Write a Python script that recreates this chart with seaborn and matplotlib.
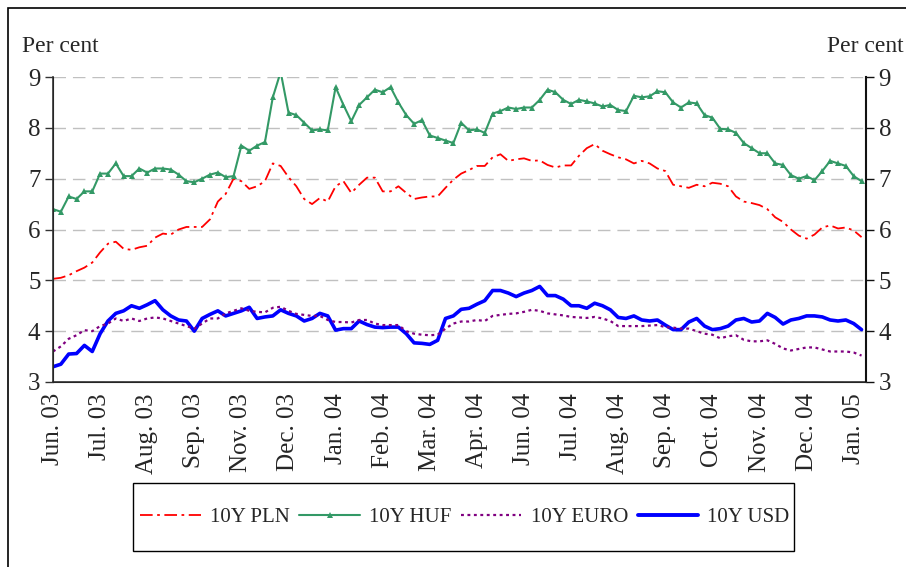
import numpy as np
import pandas as pd
import matplotlib
matplotlib.use("Agg")
import matplotlib.pyplot as plt
import seaborn as sns
from matplotlib.lines import Line2D
from matplotlib.patches import Rectangle

# ---------------- data ----------------
tick_labels = ["Jun. 03", "Jul. 03", "Aug. 03", "Sep. 03", "Nov. 03", "Dec. 03",
               "Jan. 04", "Feb. 04", "Mar. 04", "Apr. 04", "Jun. 04", "Jul. 04",
               "Aug. 04", "Sep. 04", "Oct. 04", "Nov. 04", "Dec. 04", "Jan. 05"]

pln = [5.03, 5.05, 5.1, 5.18, 5.25, 5.35, 5.55, 5.72, 5.76, 5.62, 5.6, 5.65, 5.68, 5.84,
       5.92, 5.9, 6.0, 6.05, 6.05, 6.05, 6.2, 6.55, 6.7, 7.0, 6.95, 6.8, 6.85, 6.95,
       7.3, 7.25, 7.03, 6.85, 6.6, 6.5, 6.62, 6.55, 6.85, 6.95, 6.72, 6.88, 7.02,
       7.02, 6.75, 6.75, 6.85, 6.72, 6.6, 6.63, 6.65, 6.65, 6.82, 6.98, 7.1, 7.17,
       7.25, 7.25, 7.42, 7.48, 7.35, 7.38, 7.4, 7.35, 7.36, 7.27, 7.22, 7.26, 7.26, 7.45,
       7.6, 7.68, 7.55, 7.48, 7.42, 7.38, 7.3, 7.35, 7.3, 7.2, 7.15, 6.88, 6.85,
       6.82, 6.88, 6.85, 6.92, 6.9, 6.85, 6.65, 6.55, 6.52, 6.48, 6.4, 6.24, 6.15,
       6.0, 5.88, 5.82, 5.9, 6.04, 6.08, 6.02, 6.04, 5.98, 5.85]

huf = [6.4, 6.35, 6.65, 6.6, 6.75, 6.75, 7.1, 7.1, 7.3, 7.05, 7.05, 7.2, 7.12, 7.2,
       7.2, 7.18, 7.08, 6.95, 6.93, 7.0, 7.08, 7.12, 7.03, 7.05, 7.65, 7.55, 7.65, 7.72,
       8.6, 9.1, 8.3, 8.25, 8.1, 7.95, 7.97, 7.95, 8.8, 8.45, 8.13, 8.45, 8.6,
       8.75, 8.7, 8.8, 8.5, 8.25, 8.08, 8.15, 7.85, 7.8, 7.75, 7.7, 8.1, 7.95,
       7.97, 7.9, 8.28, 8.33, 8.4, 8.37, 8.4, 8.4, 8.55, 8.75, 8.7, 8.55, 8.47, 8.55,
       8.52, 8.48, 8.42, 8.45, 8.35, 8.33, 8.63, 8.6, 8.62, 8.72, 8.7, 8.5, 8.4,
       8.5, 8.48, 8.25, 8.2, 7.98, 7.97, 7.9, 7.7, 7.6, 7.5, 7.5, 7.3, 7.27,
       7.07, 7.0, 7.05, 6.97, 7.15, 7.35, 7.3, 7.25, 7.05, 6.95]

euro = [3.6, 3.7, 3.85, 3.92, 4.02, 4.0, 4.1, 4.15, 4.25, 4.2, 4.25, 4.2, 4.25, 4.27,
        4.25, 4.2, 4.15, 4.1, 4.05, 4.15, 4.25, 4.25, 4.35, 4.4, 4.45, 4.4, 4.38, 4.37,
        4.46, 4.48, 4.4, 4.34, 4.32, 4.3, 4.3, 4.22, 4.18, 4.18, 4.17, 4.22, 4.22,
        4.15, 4.12, 4.12, 4.12, 4.0, 3.95, 3.93, 3.92, 3.93, 4.05, 4.15, 4.19, 4.19,
        4.22, 4.2, 4.3, 4.32, 4.34, 4.35, 4.38, 4.42, 4.4, 4.35, 4.33, 4.31, 4.28, 4.27,
        4.26, 4.28, 4.25, 4.2, 4.1, 4.1, 4.1, 4.1, 4.11, 4.12, 4.08, 4.07, 4.05,
        4.05, 4.0, 3.95, 3.93, 3.86, 3.9, 3.92, 3.83, 3.8, 3.8, 3.82, 3.75, 3.66,
        3.62, 3.65, 3.68, 3.68, 3.64, 3.6, 3.6, 3.6, 3.58, 3.52]

usd = [3.3, 3.35, 3.55, 3.56, 3.72, 3.6, 3.95, 4.2, 4.35, 4.4, 4.5, 4.45, 4.52, 4.6,
       4.42, 4.3, 4.22, 4.2, 4.0, 4.25, 4.33, 4.4, 4.3, 4.35, 4.4, 4.47, 4.25, 4.28,
       4.3, 4.42, 4.35, 4.3, 4.2, 4.25, 4.35, 4.3, 4.02, 4.05, 4.05, 4.2, 4.13,
       4.08, 4.07, 4.08, 4.08, 3.95, 3.77, 3.76, 3.74, 3.82, 4.25, 4.3, 4.43, 4.45,
       4.53, 4.6, 4.8, 4.8, 4.75, 4.68, 4.75, 4.8, 4.88, 4.7, 4.7, 4.63, 4.5, 4.5,
       4.45, 4.55, 4.5, 4.42, 4.27, 4.25, 4.3, 4.22, 4.2, 4.22, 4.12, 4.03, 4.03,
       4.18, 4.25, 4.1, 4.03, 4.05, 4.1, 4.22, 4.25, 4.18, 4.2, 4.35, 4.27, 4.14,
       4.22, 4.25, 4.3, 4.3, 4.28, 4.22, 4.2, 4.22, 4.15, 4.03]

series_names = ["10Y PLN", "10Y HUF", "10Y EURO", "10Y USD"]

# ---------------- figure ----------------
sns.set_style("white")
plt.rcParams["font.family"] = ["Liberation Serif", "DejaVu Serif"]
plt.rcParams["font.size"] = 16

W, H = 906, 567
fig = plt.figure(figsize=(W / 100, H / 100), dpi=100)
ax = fig.add_axes([53 / W, 1 - 382 / H, (866 - 53) / W, (382 - 77) / H])

obs = np.arange(len(pln))
df = pd.DataFrame({"obs": obs, "PLN": pln, "HUF": huf, "EURO": euro, "USD": usd})

red, green, purple, blue = "#FF0000", "#339966", "#800080", "#0000FF"
pln_ls = (0, (7, 2.5, 1.5, 2.5))
euro_ls = (0, (1.3, 1.6))

sns.lineplot(data=df, x="obs", y="PLN", ax=ax, color=red, linewidth=1.3,
             linestyle=pln_ls, zorder=3)
sns.lineplot(data=df, x="obs", y="HUF", ax=ax, color=green, linewidth=1.5,
             marker="^", markersize=4.5, markeredgewidth=0, zorder=3)
sns.lineplot(data=df, x="obs", y="USD", ax=ax, color=blue, linewidth=2.6, zorder=3)
sns.lineplot(data=df, x="obs", y="EURO", ax=ax, color=purple, linewidth=1.6,
             linestyle=euro_ls, zorder=4)

ax.set_ylim(3, 9)
ax.set_xlim(0, (866 - 53) / 7.85)
ax.set_xlabel("")
ax.set_ylabel("")

# x ticks every 3 obs, labels every 6 obs
pts_per_label = 6
tick_pos = np.arange(0, ax.get_xlim()[1], pts_per_label / 2)
ax.set_xticks(tick_pos)
ax.set_xticklabels([tick_labels[int(p // pts_per_label)] if p % pts_per_label == 0 else ""
                    for p in tick_pos], rotation=90, fontsize=18)
ax.tick_params(axis="x", direction="out", length=6, width=1, color="#333333", pad=2)

yt = np.arange(3, 10)
ax.set_yticks(yt)
ax.set_yticklabels([str(v) for v in yt], fontsize=18)
ax.tick_params(axis="y", direction="out", length=6, width=1, color="#333333", pad=3)
ax.yaxis.grid(True, color="#C0C0C0", linestyle=(0, (9, 5)), linewidth=1)
ax.xaxis.grid(False)

ax.spines["top"].set_visible(False)
for s in ["left", "bottom", "right"]:
    ax.spines[s].set_color("#333333")
    ax.spines[s].set_linewidth(1.2)

ax2 = ax.twinx()
ax2.set_ylim(3, 9)
ax2.set_yticks(yt)
ax2.set_yticklabels([str(v) for v in yt], fontsize=18)
ax2.tick_params(axis="y", direction="out", length=6, width=1, color="#111111", pad=3)
ax2.spines["top"].set_visible(False)
ax2.spines["right"].set_color("#111111")
ax2.spines["right"].set_linewidth(1.5)
ax2.grid(False)

fig.text(22 / W, 1 - 47 / H, "Per cent", fontsize=17, ha="left", va="center")
fig.text(904 / W, 1 - 47 / H, "Per cent", fontsize=17, ha="right", va="center")

# legend (box drawn separately to match its tight horizontal padding)
handles = [
    Line2D([], [], color=red, linewidth=1.3, linestyle=pln_ls),
    Line2D([], [], color=green, linewidth=1.5, marker="^", markersize=4, markeredgewidth=0),
    Line2D([], [], color=purple, linewidth=1.6, linestyle=euro_ls),
    Line2D([], [], color=blue, linewidth=2.8),
]
leg = fig.legend(handles, series_names, loc="center", ncol=4,
                 bbox_to_anchor=(465 / W, 1 - 517 / H), frameon=False,
                 fontsize=15, handlelength=2.9, handletextpad=0.45,
                 columnspacing=0.45, borderpad=0.2)
fig.patches.append(Rectangle((133 / W, 1 - 551 / H), (794 - 133) / W, (551 - 483) / H,
                             transform=fig.transFigure, fill=False,
                             edgecolor="black", linewidth=1.0))

# outer chart border (partially cut off in the reference)
fig.patches.append(Rectangle((8 / W, -0.1), 1.2, 1 - 8 / H + 0.1, transform=fig.transFigure,
                             fill=False, edgecolor="black", linewidth=1.2))

fig.savefig("out.png", dpi=100)
